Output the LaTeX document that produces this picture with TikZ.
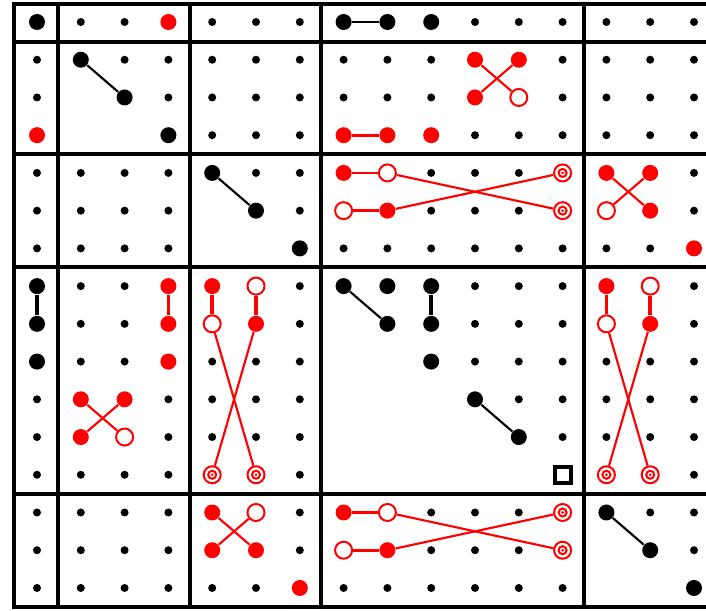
\documentclass[tikz,border=0pt]{standalone}

\tikzset{every picture/.style={line width=0.75pt}}
\tikzset{
  frame/.style={line width=3pt,line cap=rect},
  spot/.style={circle,fill=black,inner sep=0pt,minimum size=6pt},
  bigspot/.style={circle,fill,inner sep=0pt,minimum size=12pt},
  ring/.style={circle,draw=red,fill=white,line width=1.5pt,inner sep=0pt,minimum size=12.75pt},
  target/.style={ring,path picture={
      \draw [red,line width=1.5pt] (path picture bounding box.center) circle (3pt);
      \fill [red] (path picture bounding box.center) circle (1.1pt);}},
  endbox/.style={draw,fill=white,line width=3pt,inner sep=0pt,minimum size=12pt},
  link/.style={line width=1.6pt},
  hlink/.style={line width=2pt},
  vlink/.style={line width=2.8pt},
}

\begin{document}
\begin{tikzpicture}[x=0.75pt,y=0.75pt,yscale=-1,xscale=1]
				\useasboundingbox (0,0) rectangle (706,610);
				
				%Grid points
				\foreach \i in {0,...,15}
				  \foreach \j in {0,...,15}
				    \coordinate (p-\i-\j) at ({37+43.8*\i},{22+37.73*\j});
				
				%Block lines
				\foreach \x in {14,58,190,321,584}
				  \draw [frame] (\x,4) -- (\x,607);
				\foreach \y in {4,42,154,267,494,607}
				  \draw [frame] (14,\y) -- (712,\y);
				
				%Small dots (none below the diagonal inside a diagonal block)
				\foreach \i in {0,...,15}{
				  \foreach \j in {0,...,15}{
				    \pgfmathtruncatemacro{\gap}{((\i>0)+(\i>3)+(\i>6)+(\i>12)==(\j>0)+(\j>3)+(\j>6)+(\j>12))&&(\j>\i)}
				    \ifnum\gap=0 \node [spot] (s-\i-\j) at (p-\i-\j) {}; \fi
				  }
				}
				
				%Large black dots
				\foreach \i/\j in {0/0,7/0,8/0,9/0,1/1,2/2,3/3,4/4,5/5,6/6,0/7,0/8,0/9,7/7,8/7,9/7,8/8,9/8,9/9,10/10,11/11,13/13,14/14,15/15}
				  \node [bigspot] (m-\i-\j) at (p-\i-\j) {};
				%Large red dots
				\foreach \i/\j in {3/0,10/1,11/1,10/2,0/3,7/3,8/3,9/3,7/4,13/4,14/4,8/5,14/5,15/6,3/7,3/8,3/9,4/7,5/8,13/7,14/8,1/10,2/10,1/11,4/13,4/14,5/14,7/13,8/14,6/15}
				  \node [bigspot,red] (m-\i-\j) at (p-\i-\j) {};
				%Open red circles
				\foreach \i/\j in {11/2,8/4,7/5,13/5,5/7,4/8,14/7,13/8,2/11,5/13,8/13,7/14}
				  \node [ring] (m-\i-\j) at (p-\i-\j) {};
				%Targets
				\foreach \i/\j in {12/4,12/5,4/12,5/12,13/12,14/12,12/13,12/14}
				  \node [target] (m-\i-\j) at (p-\i-\j) {};
				%Square
				\node [endbox] (m-12-12) at (p-12-12) {};
				
				%Black connectors
				\draw [hlink] (m-7-0) -- (m-8-0);
				\draw [link] (m-1-1) -- (m-2-2);
				\draw [link] (m-4-4) -- (m-5-5);
				\draw [vlink] (m-0-7) -- (m-0-8);
				\draw [link] (m-7-7) -- (m-8-8);
				\draw [vlink] (m-9-7) -- (m-9-8);
				\draw [link] (m-10-10) -- (m-11-11);
				\draw [link] (m-13-13) -- (m-14-14);
				
				%Red connectors
				\draw [red,link] (m-10-1) -- (m-11-2);
				\draw [red,link] (m-11-1) -- (m-10-2);
				\draw [red,hlink] (m-7-3) -- (m-8-3);
				\draw [red,hlink] (m-7-4) -- (m-8-4);
				\draw [red,hlink] (m-7-5) -- (m-8-5);
				\draw [red,link] (m-8-4) -- (m-12-5);
				\draw [red,link] (m-8-5) -- (m-12-4);
				\draw [red,link] (m-13-4) -- (m-14-5);
				\draw [red,link] (m-14-4) -- (m-13-5);
				\draw [red,vlink] (m-3-7) -- (m-3-8);
				\draw [red,vlink] (m-4-7) -- (m-4-8);
				\draw [red,vlink] (m-5-7) -- (m-5-8);
				\draw [red,link] (m-4-8) -- (m-5-12);
				\draw [red,link] (m-5-8) -- (m-4-12);
				\draw [red,vlink] (m-13-7) -- (m-13-8);
				\draw [red,vlink] (m-14-7) -- (m-14-8);
				\draw [red,link] (m-13-8) -- (m-14-12);
				\draw [red,link] (m-14-8) -- (m-13-12);
				\draw [red,link] (m-1-10) -- (m-2-11);
				\draw [red,link] (m-2-10) -- (m-1-11);
				\draw [red,link] (m-4-13) -- (m-5-14);
				\draw [red,link] (m-5-13) -- (m-4-14);
				\draw [red,hlink] (m-7-13) -- (m-8-13);
				\draw [red,hlink] (m-7-14) -- (m-8-14);
				\draw [red,link] (m-8-13) -- (m-12-14);
				\draw [red,link] (m-8-14) -- (m-12-13);
\end{tikzpicture}
\end{document}
